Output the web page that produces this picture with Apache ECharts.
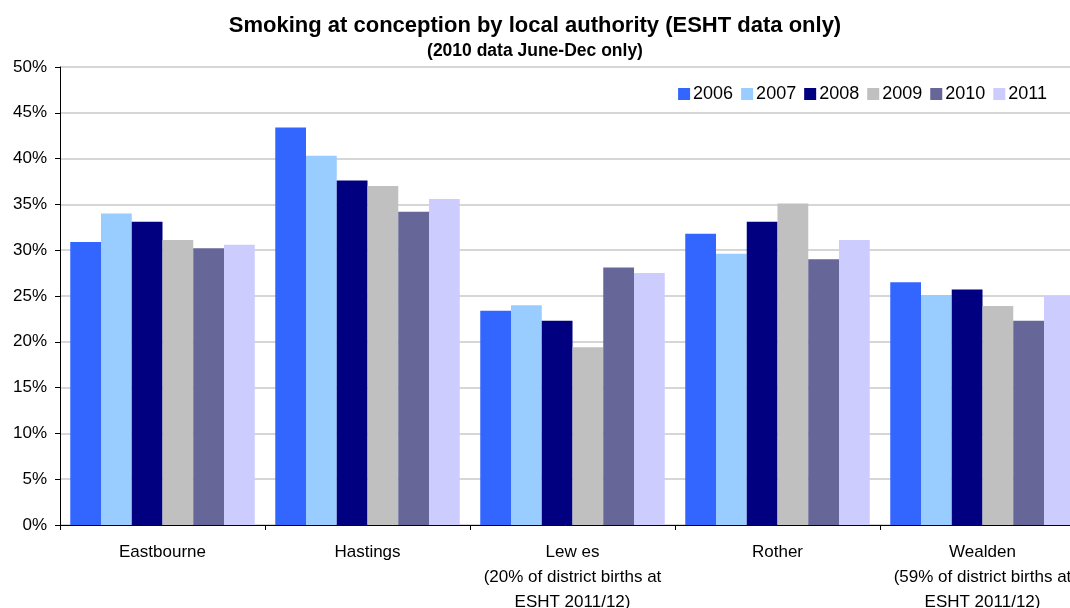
<!DOCTYPE html>
<html>
<head>
<meta charset="utf-8">
<script src="https://cdn.jsdelivr.net/npm/echarts@6/dist/echarts.min.js"></script>
<style>html,body{margin:0;padding:0;background:#fff}#c{width:1070px;height:608px}</style>
</head>
<body>
<div id="c"></div>
<script>
var categories = ['Eastbourne', 'Hastings', 'Lew es\n(20% of district births at\nESHT 2011/12)', 'Rother', 'Wealden\n(59% of district births at\nESHT 2011/12)'];
var years = ['2006', '2007', '2008', '2009', '2010', '2011'];
var v2006 = [30.9, 43.4, 23.4, 31.8, 26.5];
var v2007 = [34.0, 40.3, 24.0, 29.6, 25.1];
var v2008 = [33.1, 37.6, 22.3, 33.1, 25.7];
var v2009 = [31.1, 37.0, 19.4, 35.1, 23.9];
var v2010 = [30.2, 34.2, 28.1, 29.0, 22.3];
var v2011 = [30.6, 35.6, 27.5, 31.1, 25.0];
var yTicks = [0, 5, 10, 15, 20, 25, 30, 35, 40, 45, 50];
var colors = ['#3366FF', '#99CCFF', '#000080', '#C0C0C0', '#666699', '#CCCCFF'];
var values = [v2006, v2007, v2008, v2009, v2010, v2011];

var font = 'Liberation Sans, Arial, sans-serif';
var chart = echarts.init(document.getElementById('c'));
chart.setOption({
  animation: false,
  color: colors,
  title: [
    {text: 'Smoking at conception by local authority (ESHT data only)', left: 'center', top: 10,
     textStyle: {fontFamily: font, fontSize: 22, fontWeight: 'bold', color: '#000'}},
    {text: '(2010 data June-Dec only)', left: 'center', top: 37,
     textStyle: {fontFamily: font, fontSize: 17.5, fontWeight: 'bold', color: '#000'}}
  ],
  legend: {
    right: 18, top: 80, itemWidth: 12, itemHeight: 12, itemGap: 8, icon: 'rect',
    textStyle: {fontFamily: font, fontSize: 18, color: '#000', padding: [0, 0, 0, -2]},
    data: years
  },
  grid: {left: 60, right: -15, top: 67, bottom: 83, containLabel: false, outerBoundsMode: 'none'},
  xAxis: {
    type: 'category', data: categories,
    axisLine: {lineStyle: {color: '#000', width: 1}},
    axisTick: {show: true, length: 5, lineStyle: {color: '#000'}},
    axisLabel: {interval: 0, margin: 15, lineHeight: 25, fontFamily: font, fontSize: 17, color: '#000'}
  },
  yAxis: {
    type: 'value', min: yTicks[0], max: yTicks[yTicks.length - 1], interval: 5,
    axisLine: {show: true, lineStyle: {color: '#000', width: 1}},
    axisTick: {show: true, length: 5, lineStyle: {color: '#000'}},
    axisLabel: {margin: 13, fontFamily: font, fontSize: 17, color: '#000', formatter: '{value}%'},
    splitLine: {lineStyle: {color: '#C8C8C8', width: 1.5}}
  },
  series: years.map(function (y, i) {
    return {name: y, type: 'bar', data: values[i], barGap: '0%', barCategoryGap: '10%',
            itemStyle: {color: colors[i]}};
  })
});
</script>
</body>
</html>
